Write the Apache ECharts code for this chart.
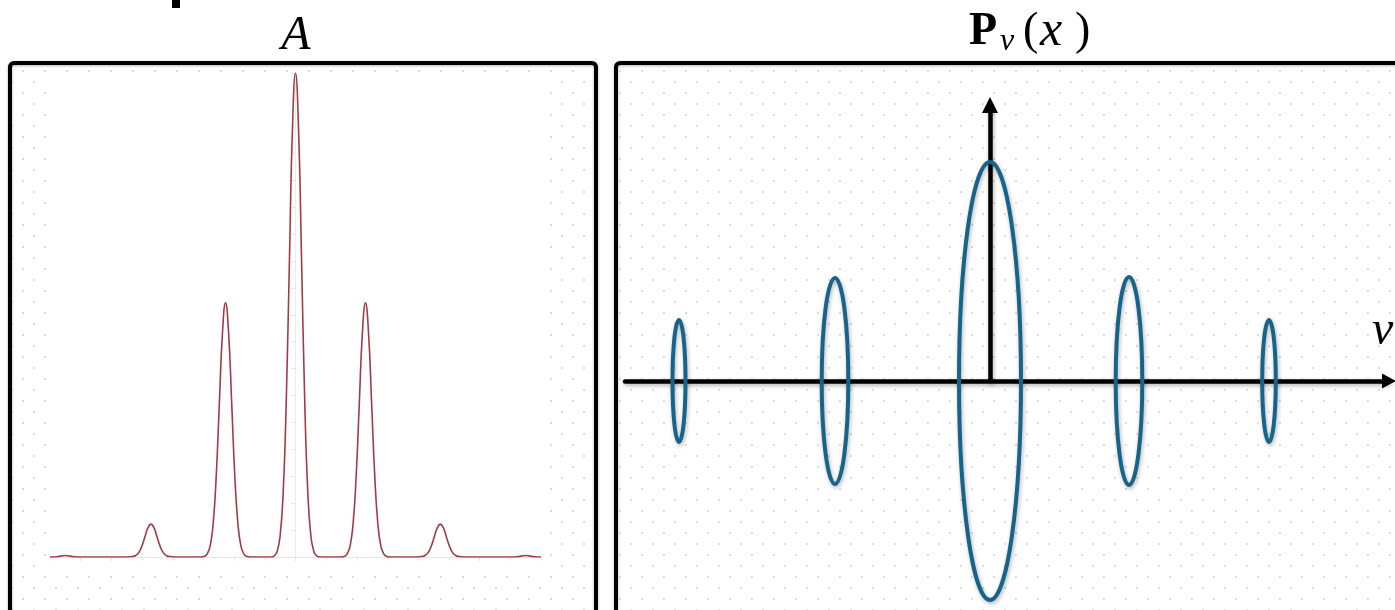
<!DOCTYPE html>
<html>
<head>
<meta charset="utf-8">
<script src="https://cdn.jsdelivr.net/npm/echarts@6/dist/echarts.min.js"></script>
<style>html,body{margin:0;padding:0;background:#fff}#c{width:1395px;height:610px}</style>
</head>
<body>
<div id="c"></div>
<script>
// ---------- Left panel: curve A (x position, amplitude) ----------
const ampX = [-8.0, -7.8, -7.5, -7.2, -6.9,
  -5.51, -5.31, -5.21, -5.11, -5.01, -4.91, -4.81, -4.71, -4.61, -4.51, -4.41, -4.31, -4.21, -4.11, -3.91,
  -3.08, -2.98, -2.88, -2.78, -2.68, -2.58, -2.48, -2.38, -2.28, -2.18, -2.08, -1.98, -1.88, -1.78, -1.68, -1.58, -1.48,
  -0.8, -0.7, -0.6, -0.5, -0.4, -0.3, -0.2, -0.1, 0, 0.1, 0.2, 0.3, 0.4, 0.5, 0.6, 0.7, 0.8,
  1.48, 1.58, 1.68, 1.78, 1.88, 1.98, 2.08, 2.18, 2.28, 2.38, 2.48, 2.58, 2.68, 2.78, 2.88, 2.98, 3.08,
  3.92, 4.12, 4.22, 4.32, 4.42, 4.52, 4.62, 4.72, 4.82, 4.92, 5.02, 5.12, 5.22, 5.32, 5.52,
  6.9, 7.2, 7.5, 7.8, 8.0];
const ampY = [0, 0.0005, 0.003, 0.0005, 0,
  0, 0.001, 0.003, 0.009, 0.022, 0.041, 0.060, 0.068, 0.060, 0.041, 0.022, 0.009, 0.003, 0.001, 0,
  0, 0.001, 0.006, 0.023, 0.071, 0.171, 0.319, 0.463, 0.525, 0.463, 0.319, 0.171, 0.071, 0.023, 0.006, 0.001, 0,
  0, 0.002, 0.011, 0.044, 0.135, 0.325, 0.607, 0.882, 1.0, 0.882, 0.607, 0.325, 0.135, 0.044, 0.011, 0.002, 0,
  0, 0.001, 0.006, 0.023, 0.071, 0.171, 0.319, 0.463, 0.525, 0.463, 0.319, 0.171, 0.071, 0.023, 0.006, 0.001, 0,
  0, 0.001, 0.003, 0.009, 0.022, 0.041, 0.060, 0.068, 0.060, 0.041, 0.022, 0.009, 0.003, 0.001, 0,
  0, 0.0005, 0.003, 0.0005, 0];

// ---------- Right panel: ellipses on the v axis ----------
const ellipseV = [-31.1, -15.5, 0, 13.9, 27.9];        // centre position on v
const ellipseCenterY = [0, 0, 0, 0, 0];
const ellipseHalfWidth = [0.65, 1.33, 3.1, 1.33, 0.68];
const ellipseHalfHeight = [6.1, 10.3, 21.9, 10.4, 6.1];

const leftTitle = 'A';
const axisLabelV = 'v';

// ---------- helpers ----------
function dotPattern(ox, oy) {
  const c = document.createElement('canvas');
  c.width = 22; c.height = 22;
  const g = c.getContext('2d');
  g.fillStyle = '#dcdcdc';
  g.fillRect(ox, oy, 2, 2);
  g.fillRect((ox + 11) % 22, (oy + 11) % 22, 2, 2);
  return c;
}
const patLeft = { image: dotPattern(0, 4), repeat: 'repeat' };
const patRight = { image: dotPattern(3, 4), repeat: 'repeat' };

const ampData = ampX.map((x, i) => [x, ampY[i]]);
const ellipseData = ellipseV.map((v, i) => [v, ellipseCenterY[i], ellipseHalfWidth[i], ellipseHalfHeight[i]]);

const serif = '"Liberation Serif", "DejaVu Serif", serif';
const shadow = { shadowBlur: 4, shadowColor: 'rgba(0,0,0,0.3)', shadowOffsetX: 1, shadowOffsetY: 2 };
const borderShadow = { shadowBlur: 3, shadowColor: 'rgba(0,0,0,0.3)', shadowOffsetY: 1 };

const chart = echarts.init(document.getElementById('c'), null, { renderer: 'canvas' });
chart.setOption({
  animation: false,
  backgroundColor: '#ffffff',
  grid: [
    { left: 50, top: 73, width: 491, height: 484 },
    { left: 625, top: 105, width: 764, height: 276 }
  ],
  xAxis: [
    { type: 'value', gridIndex: 0, min: -8, max: 8, interval: 1, z: 5,
      axisLine: { show: true, lineStyle: { color: '#e4e4e4', width: 1 } },
      axisTick: { show: true, length: 4, lineStyle: { color: '#e4e4e4' } },
      axisLabel: { show: false }, splitLine: { show: false } },
    { type: 'value', gridIndex: 1, min: -36.5, max: 39.9, z: 5,
      axisLine: { show: true, symbol: ['none', 'triangle'], symbolSize: [15, 14],
        lineStyle: Object.assign({ color: '#000', width: 4.5 }, shadow) },
      axisTick: { show: false }, axisLabel: { show: false }, splitLine: { show: false } }
  ],
  yAxis: [
    { type: 'value', gridIndex: 0, min: 0, max: 1, interval: 0.0556, z: 5,
      axisLine: { show: true, onZero: true, lineStyle: { color: '#ececec', width: 1 } },
      axisTick: { show: true, length: 4, lineStyle: { color: '#e4e4e4' } },
      axisLabel: { show: false }, splitLine: { show: false } },
    { type: 'value', gridIndex: 1, min: 0, max: 27.6, z: 5,
      axisLine: { show: true, onZero: true, symbol: ['none', 'triangle'], symbolSize: [16, 16],
        lineStyle: Object.assign({ color: '#000', width: 4.5 }, shadow) },
      axisTick: { show: false }, axisLabel: { show: false }, splitLine: { show: false } }
  ],
  series: [
    { type: 'line', xAxisIndex: 0, yAxisIndex: 0, data: ampData, showSymbol: false,
      smooth: 0.5, z: 10,
      lineStyle: { color: '#a23b45', width: 1.6 } },
    { type: 'custom', xAxisIndex: 1, yAxisIndex: 1, data: ellipseData, clip: false, z: 10,
      renderItem: function (params, api) {
        const c = api.coord([api.value(0), api.value(1)]);
        const s = api.size([api.value(2), api.value(3)]);
        const rx = s[0], ry = s[1];
        const d = 'M ' + (c[0] - rx) + ' ' + c[1] +
          ' A ' + rx + ' ' + ry + ' 0 1 0 ' + (c[0] + rx) + ' ' + c[1] +
          ' A ' + rx + ' ' + ry + ' 0 1 0 ' + (c[0] - rx) + ' ' + c[1] + ' Z';
        return { type: 'path', shape: { pathData: d },
          style: Object.assign({ fill: 'none', stroke: '#17648a', lineWidth: 4 }, shadow) };
      } }
  ],
  graphic: [
    { type: 'rect', z: 0, silent: true, shape: { x: 10, y: 63, width: 586, height: 600 }, style: { fill: patLeft } },
    { type: 'rect', z: 0, silent: true, shape: { x: 616, y: 63, width: 800, height: 600 }, style: { fill: patRight } },
    { type: 'rect', z: 1, silent: true, shape: { x: 46, y: 75, width: 504, height: 498 }, style: { fill: '#ffffff' } },
    { type: 'rect', z: 2, silent: true, shape: { x: 10, y: 63, width: 586, height: 600, r: 4 },
      style: Object.assign({ fill: 'none', stroke: '#000', lineWidth: 4 }, borderShadow) },
    { type: 'rect', z: 2, silent: true, shape: { x: 616, y: 63, width: 800, height: 600, r: 4 },
      style: Object.assign({ fill: 'none', stroke: '#000', lineWidth: 4 }, borderShadow) },
    { type: 'rect', z: 2, silent: true, shape: { x: 172, y: -2, width: 8, height: 10 }, style: { fill: '#000' } },
    { type: 'text', z: 3, silent: true, x: 296, y: 36,
      style: { text: leftTitle, font: 'italic 48px ' + serif, fill: '#000', textAlign: 'center', textVerticalAlign: 'middle' } },
    { type: 'text', z: 3, silent: true, x: 969, y: 32,
      style: { text: 'P', font: 'bold 46px ' + serif, fill: '#000', textAlign: 'left', textVerticalAlign: 'middle' } },
    { type: 'text', z: 3, silent: true, x: 1000, y: 42,
      style: { text: 'v', font: 'italic 32px ' + serif, fill: '#000', textAlign: 'left', textVerticalAlign: 'middle' } },
    { type: 'text', z: 3, silent: true, x: 1023, y: 32,
      style: { text: '(', font: '46px ' + serif, fill: '#000', textAlign: 'left', textVerticalAlign: 'middle' } },
    { type: 'text', z: 3, silent: true, x: 1040, y: 32,
      style: { text: 'x', font: 'italic 50px ' + serif, fill: '#000', textAlign: 'left', textVerticalAlign: 'middle' } },
    { type: 'text', z: 3, silent: true, x: 1075, y: 32,
      style: { text: ')', font: '46px ' + serif, fill: '#000', textAlign: 'left', textVerticalAlign: 'middle' } },
    { type: 'text', z: 3, silent: true, x: 1372, y: 331,
      style: { text: axisLabelV, font: 'italic 48px ' + serif, fill: '#000', textAlign: 'left', textVerticalAlign: 'middle' } }
  ]
});
</script>
</body>
</html>
